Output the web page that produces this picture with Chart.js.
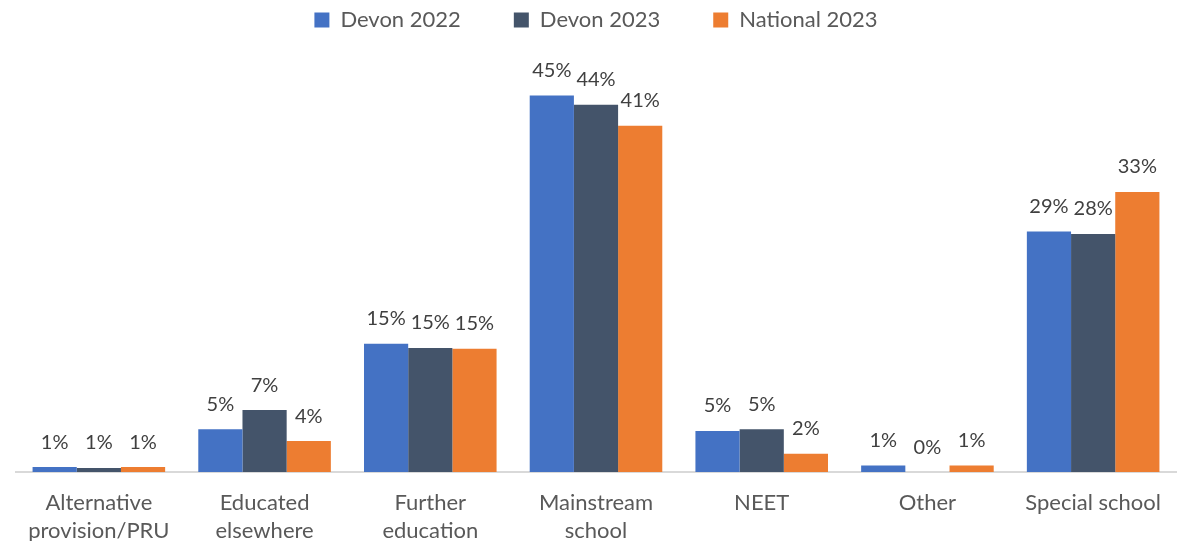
<!DOCTYPE html>
<html>
<head>
<style>
	body { margin: 0; background: #fff; }
	#wrap { width: 1181px; height: 541px; }
</style>
</head>
<body>
	<div id="wrap">
		<canvas id="myChart" width="1181" height="541"></canvas>
	</div>

	<script src="https://cdn.jsdelivr.net/npm/chart.js"></script>

	<script>
		// categories, x tick labels split over two lines like the original
		const categories = [
			['Alternative', 'provision/PRU'],
			['Educated', 'elsewhere'],
			['Further', 'education'],
			['Mainstream', 'school'],
			'NEET',
			'Other',
			'Special school'
		];

		const devon2022 = [0.6, 5.1, 15.3, 44.9, 4.9, 0.8, 28.7];
		const devon2023 = [0.5, 7.4, 14.8, 43.8, 5.1, 0, 28.4];
		const national2023 = [0.6, 3.7, 14.7, 41.3, 2.2, 0.8, 33.4];

		const fontFamily = 'Lato, "Open Sans", sans-serif';

		// draws the % value above each bar
		const barLabels = {
			id: 'barLabels',
			afterDatasetsDraw(chart) {
				const c = chart.ctx;
				c.save();
				c.font = '20px ' + fontFamily;
				c.fillStyle = '#404040';
				c.textAlign = 'center';
				c.textBaseline = 'middle';
				chart.data.datasets.forEach((ds, i) => {
					chart.getDatasetMeta(i).data.forEach((bar, j) => {
						c.fillText(Math.round(ds.data[j]) + '%', bar.x, bar.y - 25);
					});
				});
				c.restore();
			}
		};

		const data = {
			labels: categories,
			datasets: [
				{ label: 'Devon 2022', data: devon2022, backgroundColor: '#4472C4' },
				{ label: 'Devon 2023', data: devon2023, backgroundColor: '#44546A' },
				{ label: 'National 2023', data: national2023, backgroundColor: '#ED7D31' }
			]
		};

		const options = {
			responsive: false,
			animation: false,
			layout: { padding: { left: 16, right: 5, top: -44, bottom: -13 } },
			datasets: {
				bar: { barPercentage: 1, categoryPercentage: 0.8 }
			},
			plugins: {
				legend: {
					position: 'top',
					labels: {
						boxWidth: 15,
						boxHeight: 15,
						padding: 53,
						color: '#595959',
						font: { family: fontFamily, size: 22 }
					}
				},
				tooltip: { enabled: false }
			},
			scales: {
				x: {
					grid: { display: false },
					border: { display: true, color: '#D9D9D9', width: 2 },
					ticks: {
						color: '#595959',
						padding: 9,
						maxRotation: 0,
						font: { family: fontFamily, size: 22, lineHeight: 1.27 }
					}
				},
				y: {
					display: false,
					min: 0,
					max: 51.4
				}
			}
		};

		const chart = new Chart(document.getElementById('myChart'), {
			type: 'bar',
			data: data,
			options: options,
			plugins: [barLabels]
		});
	</script>
</body>
</html>
